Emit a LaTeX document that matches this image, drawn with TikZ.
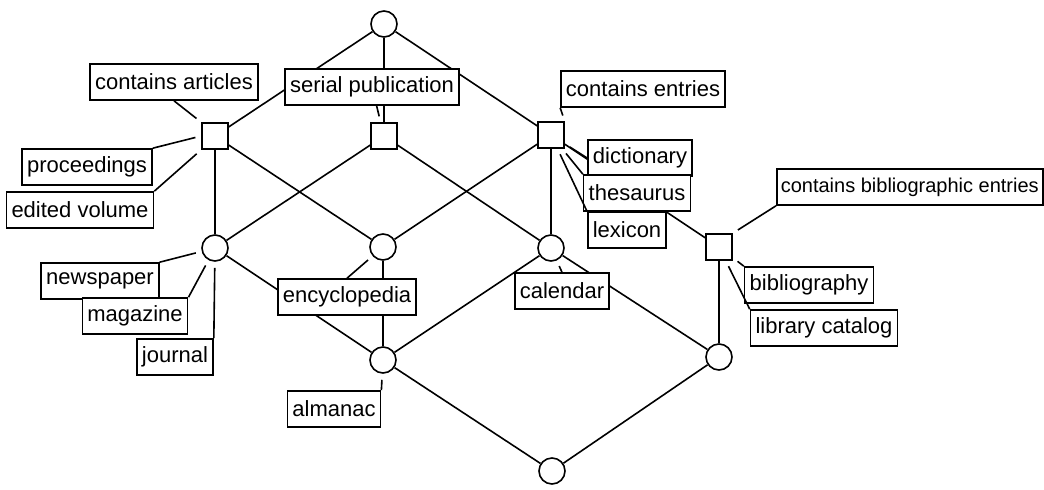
\documentclass[tikz,border=0pt]{standalone}
\usepackage{fontspec}
\setmainfont{Liberation Sans}
\usetikzlibrary{arrows}
\tikzstyle{every node}=[draw,shape=circle,line width=0.8pt]
\tikzstyle{cpt}=[circle,minimum size=13pt,inner sep=0pt]
\tikzstyle{sq}=[rectangle,minimum size=13pt,inner sep=0pt]
\tikzstyle{lbl}=[rectangle,fill=white,inner xsep=2.5pt,inner ysep=0pt,minimum height=18pt,font=\fontsize{11}{13}\selectfont]
\tikzstyle{lead}=[shorten >=3pt]

\begin{document}
\begin{tikzpicture}[x=0.5pt,y=-0.5pt,line width=0.8pt]
\useasboundingbox (0,0) rectangle (1044,489);

\node[cpt] (top) at (384,24) {};
\node[sq] (sqA) at (215,136) {};
\node[sq] (sqS) at (384,136) {};
\node[sq] (sqE) at (551,135) {};
\node[cpt] (cL) at (215,248) {};
\node[cpt] (cM) at (383,247) {};
\node[cpt] (cR) at (551,248) {};
\node[sq] (sqB) at (719,247) {};
\node[cpt] (cA) at (383,360) {};
\node[cpt] (cLR) at (719,357) {};
\node[cpt] (bot) at (552,471) {};

\draw (top) -- (sqA);
\draw (top) -- (sqS);
\draw (top) -- (sqE);
\draw (sqA) -- (cL);
\draw (sqA) -- (cM);
\draw (sqS) -- (cL);
\draw (sqS) -- (cR);
\draw (sqE) -- (cM);
\draw (sqE) -- (cR);
\draw (sqE) -- (sqB);
\draw (cL) -- (cA);
\draw (cM) -- (cA);
\draw (cR) -- (cA);
\draw (cR) -- (cLR);
\draw (sqB) -- (cLR);
\draw (cA) -- (bot);
\draw (cLR) -- (bot);

\node[lbl] (artl) at (174,82) {contains articles};
\node[lbl] (serl) at (372,87) {serial publication};
\node[lbl] (procl) at (87,167) {proceedings};
\node[lbl] (edvl) at (80,210) {edited volume};
\node[lbl] (entl) at (643,89) {contains entries};
\node[lbl] (dicl) at (640,158) {dictionary};
\node[lbl] (thsl) at (637,193) {thesaurus};
\node[lbl] (lexl) at (627,230) {lexicon};
\node[lbl,anchor=west,inner xsep=2pt,font=\fontsize{10}{12}\selectfont] (bibel) at (776,187) {contains bibliographic entries};
\node[lbl] (bibl) at (809,285) {bibliography};
\node[lbl] (catl) at (824,328) {library catalog};
\node[lbl] (newsl) at (100,281) {newspaper};
\node[lbl] (magl) at (135,316) {magazine};
\node[lbl] (jrnl) at (175,357) {journal};
\node[lbl] (encl) at (347,297) {encyclopedia};
\node[lbl] (call) at (562,291) {calendar};
\node[lbl] (alml) at (334,409) {almanac};

\draw[lead] (artl.south) -- (sqA.north west);
\draw[lead] (serl) -- (sqS);
\draw[lead] (procl.north east) -- (sqA.west);
\draw[lead] (edvl.north east) -- (sqA.south west);
\draw[lead] (entl.south west) -- (sqE.north east);
\draw[lead] (dicl.west) -- (sqE);
\draw[lead] (thsl.north west) -- (sqE);
\draw[lead] (lexl.north west) -- (sqE);
\draw[lead] (bibel.south west) -- (sqB.north east);
\draw[lead] (bibl.north west) -- (sqB);
\draw[lead] (catl.north west) -- (sqB);
\draw[lead] (newsl.north east) -- (cL);
\draw[lead] (magl.north east) -- (cL);
\draw[lead] (jrnl.north east) -- (cL);
\draw[lead] (encl.north) -- (cM);
\draw[lead] (call.north) -- (cR);
\draw[lead] (alml.north east) -- (cA);

\end{tikzpicture}
\end{document}
